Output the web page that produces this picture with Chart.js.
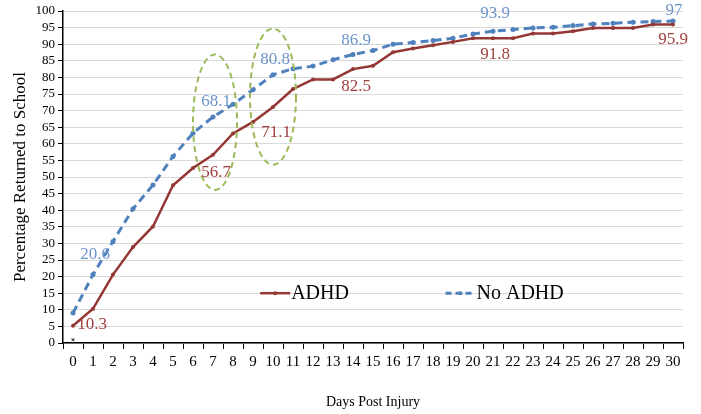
<!DOCTYPE html>
<html>
<head>
<meta charset="utf-8">
<script src="https://cdn.jsdelivr.net/npm/chart.js@4/dist/chart.umd.min.js"></script>
<style>
  html, body { margin: 0; padding: 0; background: #fff; }
  #wrap { width: 701px; height: 414px; }
</style>
</head>
<body>
<div id="wrap"><canvas id="rtsChart" width="701" height="414"></canvas></div>
<script>
/* data */
const days = Array.from({ length: 31 }, (_, i) => String(i));
const adhd = [5.2, 10.3, 20.6, 28.9, 35.1, 47.5, 52.7, 56.7, 63.1, 66.6, 71.1, 76.5, 79.4, 79.4, 82.5, 83.5,
  87.6, 88.7, 89.7, 90.7, 91.8, 91.8, 91.8, 93.2, 93.2, 93.9, 94.9, 94.9, 94.9, 95.9, 95.9];
const noAdhd = [9.0, 20.6, 30.6, 40.4, 47.6, 56.2, 63.2, 68.1, 71.9, 76.3, 80.8, 82.6, 83.4, 85.3, 86.9, 88.1,
  90.0, 90.5, 91.1, 91.8, 93.1, 93.9, 94.4, 94.9, 95.1, 95.6, 96.1, 96.3, 96.6, 96.8, 97];
// stray tiny marker near the origin
const stray = [1];
const yTicks = [0, 5, 10, 15, 20, 25, 30, 35, 40, 45, 50, 55, 60, 65, 70, 75, 80, 85, 90, 95, 100];

// which days get a value label
const adhdLabelDays = [1, 7, 10, 14, 21, 30];
const noAdhdLabelDays = [1, 7, 10, 14, 21, 30];
// highlighted days (dashed ellipses)
const circledDays = [7, 10];

const RED = '#953735';
const BLUE = '#4F81BD';
const RED_TXT = '#A0403E';
const BLUE_TXT = '#6D95CC';
const GREEN = '#9BBB59';
const SERIF = '"Liberation Serif", "Times New Roman", serif';

// label offsets in px (dx, dy) relative to the point
const adhdOffsets = [[-1, 16], [3, 18], [3, 26], [3, 17], [2, 16], [0, 15]];
const noAdhdOffsets = [[2, -20], [3, -15], [2, -15], [3, -14], [2, -18], [1, -10]];
// ellipse sizes in data units
const ellipseStyle = [
  { dx: 0.1, cy: 66.5, rx: 1.1, ry: 20.4 },
  { dx: 0, cy: 74.2, rx: 1.15, ry: 20.5 }
];

const overlay = {
  id: 'overlay',
  afterDatasetsDraw(chart) {
    const { ctx, chartArea } = chart;
    const x = chart.scales.x, y = chart.scales.y;
    ctx.save();

    // dashed ellipses
    ctx.strokeStyle = GREEN;
    ctx.lineWidth = 2;
    ctx.setLineDash([6, 4]);
    circledDays.forEach((d, i) => {
      const e = ellipseStyle[i];
      const cx = x.getPixelForValue(d) + e.dx * (x.getPixelForValue(1) - x.getPixelForValue(0));
      const cy = y.getPixelForValue(e.cy);
      const rx = Math.abs(x.getPixelForValue(e.rx) - x.getPixelForValue(0));
      const ry = Math.abs(y.getPixelForValue(e.ry) - y.getPixelForValue(0));
      ctx.beginPath();
      ctx.ellipse(cx, cy, rx, ry, 0, 0, Math.PI * 2);
      ctx.stroke();
    });
    ctx.setLineDash([]);

    // value labels
    ctx.font = '17px ' + SERIF;
    ctx.textAlign = 'center';
    ctx.textBaseline = 'middle';
    ctx.fillStyle = RED_TXT;
    adhdLabelDays.forEach((d, i) => {
      const px = x.getPixelForValue(d), py = y.getPixelForValue(adhd[d]);
      ctx.fillText(String(adhd[d]), px + adhdOffsets[i][0], py + adhdOffsets[i][1]);
    });
    ctx.fillStyle = BLUE_TXT;
    noAdhdLabelDays.forEach((d, i) => {
      const px = x.getPixelForValue(d), py = y.getPixelForValue(noAdhd[d]);
      ctx.fillText(String(noAdhd[d]), px + noAdhdOffsets[i][0], py + noAdhdOffsets[i][1]);
    });

    // legend inside plot
    const w = chartArea.right - chartArea.left;
    const ly = y.getPixelForValue(15);
    const items = [
      { text: 'ADHD', color: RED, dash: [], width: 2.5, x0: chartArea.left + w * 0.318 },
      { text: 'No ADHD', color: BLUE, dash: [6, 4], width: 3, x0: chartArea.left + w * 0.617 }
    ];
    ctx.font = '20px ' + SERIF;
    ctx.textAlign = 'left';
    items.forEach(it => {
      ctx.strokeStyle = it.color;
      ctx.lineWidth = it.width;
      ctx.setLineDash(it.dash);
      ctx.beginPath();
      ctx.moveTo(it.x0, ly);
      ctx.lineTo(it.x0 + 30, ly);
      ctx.stroke();
      ctx.setLineDash([]);
      ctx.fillStyle = it.color;
      ctx.beginPath();
      ctx.arc(it.x0 + 15, ly, 2, 0, Math.PI * 2);
      ctx.fill();
      ctx.fillStyle = '#000';
      ctx.fillText(it.text, it.x0 + 31, ly + 1);
    });
    ctx.restore();
  }
};

new Chart(document.getElementById('rtsChart'), {
  type: 'line',
  data: {
    labels: days,
    datasets: [
      {
        label: 'ADHD',
        data: adhd,
        borderColor: RED,
        backgroundColor: RED,
        borderWidth: 2.5,
        pointRadius: 2,
        pointBorderWidth: 0,
        tension: 0
      },
      {
        label: 'No ADHD',
        data: noAdhd,
        borderColor: BLUE,
        backgroundColor: BLUE,
        borderWidth: 3,
        borderDash: [8, 5],
        pointRadius: 2.5,
        pointBorderWidth: 0,
        tension: 0
      },
      {
        label: '',
        data: stray,
        showLine: false,
        pointStyle: 'crossRot',
        pointRadius: 2,
        borderColor: '#000',
        borderWidth: 1
      }
    ]
  },
  options: {
    responsive: false,
    animation: false,
    layout: { padding: { top: 11, right: 18, bottom: 0, left: 0 } },
    plugins: { legend: { display: false }, tooltip: { enabled: false } },
    scales: {
      x: {
        offset: true,
        grid: { drawOnChartArea: false, drawTicks: true, tickLength: 6, tickColor: '#000', offset: true },
        border: { color: '#000', width: 1.5 },
        ticks: { color: '#000', font: { family: SERIF, size: 15 }, maxRotation: 0, autoSkip: false, padding: 4 },
        title: { display: true, text: 'Days Post Injury', color: '#000', font: { family: SERIF, size: 14 }, padding: { top: 0, bottom: 3 } },
        afterFit(s) { s.height = 71; }
      },
      y: {
        min: 0,
        max: 100,
        afterBuildTicks(s) { s.ticks = yTicks.map(v => ({ value: v })); },
        grid: { color: '#D9D9D9', drawTicks: true, tickLength: 5, tickColor: '#000' },
        border: { color: '#000', width: 1.5 },
        ticks: { color: '#000', font: { family: SERIF, size: 13 }, padding: 3, autoSkip: false },
        title: { display: true, text: 'Percentage Returned to School', color: '#000', font: { family: SERIF, size: 17 }, padding: { top: 10 } },
        afterFit(s) { s.width = 63; }
      }
    }
  },
  plugins: [overlay]
});
</script>
</body>
</html>
